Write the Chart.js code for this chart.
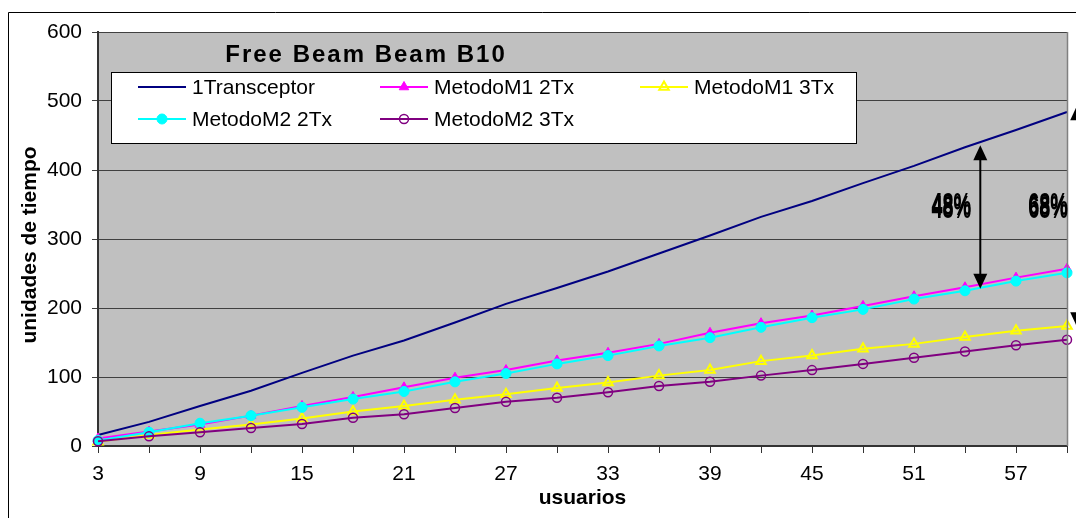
<!DOCTYPE html>
<html><head><meta charset="utf-8">
<script src="https://cdn.jsdelivr.net/npm/chart.js@4.4.1/dist/chart.umd.min.js"></script>
<style>html,body{margin:0;padding:0;background:#fff;overflow:hidden}</style>
</head><body>
<canvas id="c" width="1076" height="518"></canvas>
<script>
// ---- data ----
const categories = [3,6,9,12,15,18,21,24,27,30,33,36,39,42,45,48,51,54,57,60];
const transceptor1 = [16,35,58,80,106,131,153,179,206,229,253,279,305,332,355,381,406,433,458,484];
const metodoM1_2Tx = [11,21,31,44,58,71,85,99,110,124,135,148,164,178,189,203,217,230,244,257];
const metodoM1_3Tx = [6,16,24,31,40,50,58,67,75,84,92,102,110,123,131,141,148,158,167,174];
const metodoM2_2Tx = [8,20,33,44,56,68,79,93,105,119,131,145,157,172,186,198,213,225,239,251];
const metodoM2_3Tx = [7,14,20,26,32,41,46,55,64,70,78,87,93,102,110,119,128,137,146,154];
const seriesNames = ['1Transceptor','MetodoM1 2Tx','MetodoM1 3Tx','MetodoM2 2Tx','MetodoM2 3Tx'];
const yTicks = [0,100,200,300,400,500,600];
const chartTitle = 'Free Beam Beam B10';
const yTitle = 'unidades de tiempo';
const xTitle = 'usuarios';
const pctLabels = ['48%','68%'];
const pctPositions = [16.73, 18.63];   // category index
const pctValue = 345;
const arrow1 = [17.3, 436, 228];       // index, from, to
const arrow2 = [19.2, 494, 172];

const FONT = '"Liberation Sans", Arial, sans-serif';
const colors = ['#000080','#FF00FF','#FFFF00','#00FFFF','#800080'];

const datasets = [
  {label:seriesNames[0], data:transceptor1, borderColor:colors[0], borderWidth:2, pointRadius:0, order:5},
  {label:seriesNames[1], data:metodoM1_2Tx, borderColor:colors[1], borderWidth:2, pointStyle:'triangle', pointRadius:5.5, pointBackgroundColor:colors[1], pointBorderColor:colors[1], pointBorderWidth:1, order:4},
  {label:seriesNames[2], data:metodoM1_3Tx, borderColor:colors[2], borderWidth:2, pointStyle:'triangle', pointRadius:5.5, pointBackgroundColor:'rgba(0,0,0,0)', pointBorderColor:colors[2], pointBorderWidth:2, order:3},
  {label:seriesNames[3], data:metodoM2_2Tx, borderColor:colors[3], borderWidth:2, pointStyle:'circle', pointRadius:5, pointBackgroundColor:colors[3], pointBorderColor:colors[3], pointBorderWidth:1, order:2},
  {label:seriesNames[4], data:metodoM2_3Tx, borderColor:colors[4], borderWidth:2, pointStyle:'circle', pointRadius:4.5, pointBackgroundColor:'rgba(0,0,0,0)', pointBorderColor:colors[4], pointBorderWidth:1.5, order:1}
];
datasets.forEach(d => { d.tension = 0; d.clip = 12; d.fill = false; });

function drawMarker(ctx, ds, x, y){
  if (!ds.pointRadius) return;
  Chart.helpers.drawPoint(ctx, {pointStyle: ds.pointStyle, radius: ds.pointRadius, rotation: 0, borderWidth: ds.pointBorderWidth}, x, y);
}

const decor = {
  id:'decor',
  beforeDraw(chart){
    const {ctx, chartArea:a} = chart;
    ctx.save();
    ctx.fillStyle = '#fff';
    ctx.fillRect(0,0,chart.width,chart.height);
    ctx.fillStyle = '#C0C0C0';
    ctx.fillRect(a.left, a.top, a.right - a.left, a.bottom - a.top);
    ctx.strokeStyle = '#000'; ctx.lineWidth = 1;
    ctx.beginPath(); ctx.moveTo(8.5, chart.height); ctx.lineTo(8.5, 12.5); ctx.lineTo(chart.width, 12.5); ctx.stroke();
    ctx.restore();
  },
  afterDatasetsDraw(chart){
    const {ctx, chartArea:a, scales:{x, y}} = chart;
    ctx.save();
    ctx.strokeStyle = '#808080'; ctx.lineWidth = 1.5;
    ctx.beginPath(); ctx.moveTo(a.right + 0.5, a.top); ctx.lineTo(a.right + 0.5, a.bottom); ctx.stroke();
    // title
    ctx.fillStyle = '#000';
    ctx.font = 'bold 24px ' + FONT;
    ctx.letterSpacing = '2px';
    ctx.textAlign = 'center'; ctx.textBaseline = 'middle';
    ctx.fillText(chartTitle, 366, 55);
    ctx.letterSpacing = '0px';
    // legend box
    ctx.fillStyle = '#fff';
    ctx.fillRect(111, 72, 745, 71);
    ctx.strokeStyle = '#000'; ctx.lineWidth = 1;
    ctx.strokeRect(111.5, 72.5, 745, 71);
    const pos = [[138,87],[380,87],[640,87],[138,119],[380,119]];
    ctx.font = '21px ' + FONT; ctx.textAlign = 'left'; ctx.textBaseline = 'middle';
    datasets.forEach((ds, i) => {
      const [lx, ly] = pos[i];
      ctx.strokeStyle = ds.borderColor; ctx.lineWidth = 2;
      ctx.beginPath(); ctx.moveTo(lx, ly); ctx.lineTo(lx + 48, ly); ctx.stroke();
      ctx.strokeStyle = ds.pointBorderColor || ds.borderColor;
      ctx.fillStyle = ds.pointBackgroundColor || ds.borderColor;
      ctx.lineWidth = ds.pointBorderWidth || 1;
      drawMarker(ctx, ds, lx + 24, ly);
      ctx.fillStyle = '#000';
      ctx.fillText(ds.label, lx + 54, ly + 1);
    });
    // arrows
    function arrow(idx, v1, v2){
      const xp = x.getPixelForValue(0) + idx * (x.getPixelForValue(1) - x.getPixelForValue(0));
      const y1 = y.getPixelForValue(v1), y2 = y.getPixelForValue(v2);
      ctx.strokeStyle = '#000'; ctx.fillStyle = '#000'; ctx.lineWidth = 2;
      ctx.beginPath(); ctx.moveTo(xp, y1 + 10); ctx.lineTo(xp, y2 - 10); ctx.stroke();
      ctx.beginPath(); ctx.moveTo(xp, y1); ctx.lineTo(xp - 7, y1 + 15); ctx.lineTo(xp + 7, y1 + 15); ctx.closePath(); ctx.fill();
      ctx.beginPath(); ctx.moveTo(xp, y2); ctx.lineTo(xp - 7, y2 - 15); ctx.lineTo(xp + 7, y2 - 15); ctx.closePath(); ctx.fill();
    }
    arrow(arrow1[0], arrow1[1], arrow1[2]);
    arrow(arrow2[0], arrow2[1], arrow2[2]);
    // percentage labels (doubled, condensed)
    ctx.font = 'bold 22px ' + FONT; ctx.textAlign = 'center'; ctx.textBaseline = 'middle';
    pctLabels.forEach((t, i) => {
      const xp = x.getPixelForValue(0) + pctPositions[i] * (x.getPixelForValue(1) - x.getPixelForValue(0));
      const yp = y.getPixelForValue(pctValue);
      [[0,-1.5],[0,1.5]].forEach(([dx, dy]) => {
        ctx.save();
        ctx.translate(xp + dx, yp + dy);
        ctx.scale(0.9, 1.4);
        ctx.fillStyle = '#000';
        ctx.fillText(t, 0, 0);
        ctx.restore();
      });
    });
    // axis titles
    ctx.font = 'bold 21px ' + FONT; ctx.fillStyle = '#000';
    ctx.textAlign = 'center'; ctx.textBaseline = 'middle';
    ctx.fillText(xTitle, (a.left + a.right) / 2, 498);
    ctx.save();
    ctx.translate(30, (a.top + a.bottom) / 2 + 6);
    ctx.rotate(-Math.PI / 2);
    ctx.fillText(yTitle, 0, 0);
    ctx.restore();
    ctx.restore();
  }
};

new Chart(document.getElementById('c'), {
  type:'line',
  data:{labels:categories, datasets},
  options:{
    responsive:false, animation:false, devicePixelRatio:1,
    layout:{padding:{left:0, right:7, top:32, bottom:0}},
    plugins:{legend:{display:false}, tooltip:{enabled:false}, title:{display:false}},
    scales:{
      x:{
        type:'category', offset:false,
        grid:{display:true, drawOnChartArea:false, drawTicks:true, tickLength:7, color:'#333', lineWidth:1},
        border:{display:true, color:'#333', width:2},
        ticks:{autoSkip:false, maxRotation:0, minRotation:0, padding:9, color:'#000', font:{family:FONT, size:21},
          callback:(v, i) => i % 2 === 0 ? String(categories[i]) : ''},
        afterFit:(s) => { s.height = 72; }
      },
      y:{
        min:yTicks[0], max:yTicks[yTicks.length-1],
        grid:{color:'#404040', lineWidth:1, drawTicks:true, tickLength:6},
        border:{display:true, color:'#333', width:2},
        ticks:{stepSize:100, padding:10, color:'#000', font:{family:FONT, size:21}},
        afterFit:(s) => { s.width = 98; }
      }
    }
  },
  plugins:[decor]
});
</script>
</body></html>
